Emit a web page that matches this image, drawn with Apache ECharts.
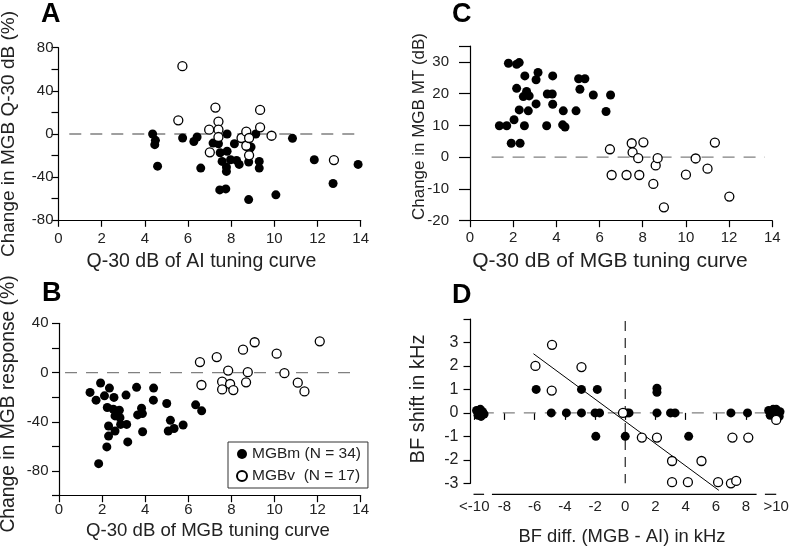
<!DOCTYPE html>
<html><head><meta charset="utf-8">
<script src="https://cdn.jsdelivr.net/npm/echarts@6/dist/echarts.min.js"></script>
<style>html,body{margin:0;padding:0;background:#fff}#c{width:792px;height:547px}</style>
</head><body><div id="c"></div>
<script>
// ---- Panel A: Q-30 of AI tuning curve vs change in MGB Q-30 (%)
const aFilled = [[4.36,0],[4.49,-5.9],[4.46,-9.9],[4.59,-29.8],[5.75,-3.7],[6.27,-7],[6.42,-2.8],[6.59,-31.6],
 [7.16,-8.4],[7.41,-9],[7.49,-17.4],[7.58,-25.4],[7.47,-51.8],[7.75,-50.9],[7.81,0],[7.81,-16],[7.78,-30.7],
 [7.78,-34.7],[7.97,-23.9],[8.15,-9],[8.25,-24.5],[8.37,-28.2],[8.81,-26],[8.92,-12],[8.85,-14],[8.81,-60.8],
 [9.14,0],[9.3,-25.4],[9.3,-31.6],[10.07,-56.4],[10.84,-4],[11.85,-23.9],[12.72,-45.9],[13.88,-28.2]];
const aOpen = [[5.74,62.9],[5.55,12.7],[7.27,24.5],[7.41,11.5],[7.41,4],[7.41,-2.8],[6.98,4],[7.01,-17],
 [8.48,-3.7],[8.7,2.2],[8.7,-10.9],[8.83,-3.7],[8.83,-19.8],[9.34,22.3],[9.34,6.2],[9.87,-1.6],[12.76,-24.2]];
const aZero = [[0.5,0],[14,0]];

// ---- Panel C: Q-30 of MGB tuning curve vs change in MGB MT (dB)
const cFilled = [[1.36,9.9],[1.7,9.9],[1.78,29.6],[2.16,29.3],[2.28,29.8],[2.04,11.8],[1.91,4.4],[2.32,4.4],
 [2.16,21.7],[2.28,14.9],[2.52,9.9],[2.54,25.6],[2.47,19.1],[2.62,20.7],[2.74,19.3],[2.7,14.6],[3.06,16.8],
 [3.06,24.4],[3.15,26.7],[3.55,9.9],[3.58,19.9],[3.81,19.9],[3.83,25.6],[3.83,16.7],[4.32,14.6],[4.29,10.2],
 [4.4,9.5],[4.91,14.6],[5.03,24.7],[5.32,24.7],[5.09,21.4],[5.71,19.6],[6.3,14.4],[6.51,19.6]];
const cOpen = [[6.48,2.5],[6.56,-5.6],[7.25,-5.6],[7.49,4.4],[7.53,1.5],[7.79,-0.3],[7.84,-5.6],[8.03,4.7],
 [8.49,-8.4],[8.6,-2.6],[8.69,-0.3],[8.98,-15.8],[10.0,-5.5],[10.45,-0.4],[11.0,-3.6],[11.34,4.6],[12.01,-12.4]];
const cZero = [[1.0,0],[13.66,0]];

// ---- Panel B: Q-30 of MGB tuning curve vs change in MGB response (%)
const bFilled = [[1.44,-16.1],[1.72,-22.4],[1.84,-74],[1.93,-8.5],[2.11,-18.9],[2.22,-60.4],[2.24,-28.4],
 [2.3,-43.4],[2.3,-51.6],[2.34,-12.6],[2.55,-20.2],[2.52,-29.8],[2.6,-35.2],[2.6,-47.5],[2.68,-31.7],[2.8,-30.6],
 [2.83,-36.6],[2.86,-42.1],[3.11,-18.3],[3.14,-42.1],[3.19,-56.3],[3.6,-12],[3.65,-34.4],[3.83,-29],[3.87,-33.3],
 [3.88,-48.1],[4.39,-12.6],[4.38,-22.4],[5.0,-25.1],[5.17,-38.8],[5.07,-47.5],[5.34,-45.4],[5.76,-42.6],
 [6.34,-26.2],[6.62,-31.1]];
const bOpen = [[6.54,8.5],[6.61,-10.1],[7.32,12.6],[7.57,-7.4],[7.57,-13.7],[7.85,1.6],[7.94,-9.3],[8.09,-14.2],
 [8.54,18.6],[8.68,-7.9],[8.76,0.3],[9.08,24.6],[10.1,15.3],[10.46,-0.5],[11.08,-8.2],[11.39,-15.3],[12.1,25.4]];
const bZero = [[0.28,0],[13.8,0]];

// ---- Panel D: BF difference (MGB - AI) vs BF shift (kHz)
const dFilled = [[-5.9,1],[-4.9,0],[-3.9,0],[-2.9,1],[-2.9,0],[-2.0,0],[-1.7,0],[-1.85,1],[-1.95,-1],[0,-1],
 [0.1,0],[0.25,0],[2.1,1.05],[2.1,0.88],[2.1,0],[3.0,0],[3.3,0],[4.2,-1],[7.0,0],[8.1,0],
 [-9.85,0.1],[-9.75,-0.1],[-9.6,0.15],[-9.55,-0.15],[-9.45,0.05],[-9.35,-0.05],[-9.6,0],
 [9.5,0.1],[9.6,-0.1],[9.8,0.15],[9.85,-0.1],[10.0,0.15],[10.1,-0.05],[10.25,0.05],[10.2,-0.15]];
const dOpen = [[-5.95,2],[-4.85,2.9],[-4.87,0.95],[-2.9,1.95],[-0.15,0],[1.1,-1.05],[2.1,-1.05],[3.1,-2.05],
 [3.1,-2.95],[4.15,-2.95],[5.05,-2.05],[6.15,-2.95],[7.0,-3.0],[7.35,-2.9],[7.1,-1.05],[8.15,-1.05],[10.0,-0.3]];
const dFit = [[-6.08,2.52],[6.2,-3.3]];
const dZeroH = [[-9.5,0],[9.6,0]];
const dZeroV = [[0,3.92],[0,-3]];
const dTicks = [-10,-8,-6,-4,-2,0,2,4,6,8,10];
const dAxisSegments = [[-10.05,-9.35],[-8.83,8.7],[9.25,10.0]];

const seriesNames = ['MGBm (N = 34)', 'MGBv  (N = 17)'];

const FONT = '"Liberation Sans", Arial, Helvetica, sans-serif';
const TXT = '#222';
const chart = echarts.init(document.getElementById('c'), null, {renderer: 'canvas'});

function xAx(gi, o) {
  return Object.assign({
    type: 'value', gridIndex: gi, min: 0, max: 14, interval: 2,
    axisLine: {show: true, onZero: false, lineStyle: {color: '#000', width: 1.2}},
    axisTick: {show: true, length: 6.5, lineStyle: {color: '#000', width: 1.2}},
    axisLabel: {fontSize: 15, color: TXT, fontFamily: FONT, margin: 10},
    splitLine: {show: false}
  }, o);
}
function yAx(gi, o) {
  return Object.assign({
    type: 'value', gridIndex: gi,
    axisLine: {show: true, onZero: false, lineStyle: {color: '#000', width: 1.2}},
    axisTick: {show: true, length: 7, lineStyle: {color: '#000', width: 1.2}},
    splitLine: {show: false}
  }, o);
}
const every40 = v => (v % 40 === 0 ? String(v) : '');

function filled(name, xi, data) {
  return {name, type: 'scatter', xAxisIndex: xi, yAxisIndex: xi, data, symbol: 'circle', symbolSize: 9,
    itemStyle: {color: '#000', opacity: 1}, z: 3, silent: true};
}
function open(name, xi, data) {
  return {name, type: 'scatter', xAxisIndex: xi, yAxisIndex: xi, data, symbol: 'circle', symbolSize: 9,
    itemStyle: {color: '#fff', borderColor: '#000', borderWidth: 1.3, opacity: 1}, z: 4, silent: true};
}
function dashed(xi, data) {
  return {type: 'line', xAxisIndex: xi, yAxisIndex: xi, data, symbol: 'none', silent: true, z: 1,
    lineStyle: {color: '#808080', width: 1.3, type: [12, 9]}, animation: false};
}

function txt(id, s, x, y, size, o) {
  return Object.assign({type: 'text', id, x, y, silent: true,
    style: {text: s, fontSize: size, fontFamily: FONT, fill: TXT, textAlign: 'center', textVerticalAlign: 'middle'}}, o || {});
}
function vtxt(id, s, x, y, size) {
  return {type: 'text', id, x, y, rotation: Math.PI / 2, silent: true,
    style: {text: s, fontSize: size, fontFamily: FONT, fill: TXT, textAlign: 'center', textVerticalAlign: 'middle'}};
}
function letter(id, s, x, y) {
  return {type: 'text', id, x, y, silent: true,
    style: {text: s, fontSize: 27, fontWeight: 'bold', fontFamily: FONT, fill: '#000', textAlign: 'left', textVerticalAlign: 'middle'}};
}

const option = {
  animation: false,
  backgroundColor: '#fff',
  grid: [
    {left: 58.5, top: 47.7, width: 302.2, height: 172.6},
    {left: 470, top: 46.1, width: 302.3, height: 174.6},
    {left: 59, top: 323.3, width: 301.7, height: 172.4},
    {left: 470.5, top: 319, width: 311, height: 164.3}
  ],
  xAxis: [
    xAx(0, {axisLabel: {fontSize: 15, color: TXT, fontFamily: FONT, margin: 11}}),
    xAx(1, {axisLabel: {fontSize: 15, color: TXT, fontFamily: FONT, margin: 10}}),
    xAx(2, {axisLabel: {fontSize: 15, color: TXT, fontFamily: FONT, margin: 7}}),
    {type: 'value', gridIndex: 3, min: -10.25, max: 10.35, offset: 11,
      axisLine: {show: false},
      axisTick: {show: true, length: 7, customValues: dTicks, lineStyle: {color: '#000', width: 1.2}},
      axisLabel: {fontSize: 15, color: TXT, fontFamily: FONT, margin: 5, customValues: dTicks,
        formatter: v => (v <= -10 ? '<-10' : (v >= 10 ? '>10' : String(v)))},
      splitLine: {show: false}}
  ],
  yAxis: [
    yAx(0, {min: -80, max: 80, interval: 20,
      axisLabel: {fontSize: 15, color: TXT, fontFamily: FONT, margin: 5, formatter: every40}}),
    yAx(1, {min: -20, max: 35, interval: 10, axisTick: {show: true, length: 11, lineStyle: {color: '#000', width: 1.2}},
      axisLabel: {fontSize: 15, color: TXT, fontFamily: FONT, margin: 21, formatter: v => (v > 30 ? '' : String(v))}}),
    yAx(2, {min: -100, max: 40, interval: 20,
      axisLabel: {fontSize: 15, color: TXT, fontFamily: FONT, margin: 10.5, formatter: every40}}),
    yAx(3, {min: -3, max: 4, interval: 1,
      axisLabel: {fontSize: 16, color: TXT, fontFamily: FONT, margin: 12, formatter: v => (v >= 4 ? '' : String(v))}})
  ],
  legend: {
    show: true, orient: 'vertical', left: 228, top: 442,
    data: seriesNames,
    itemWidth: 10, itemHeight: 10, itemGap: 4, padding: [3, 7, 3, 8],
    borderColor: '#333', borderWidth: 1, backgroundColor: '#fff',
    textStyle: {fontSize: 15.5, color: TXT, fontFamily: FONT, lineHeight: 18},
    selectedMode: false
  },
  series: [
    dashed(0, aZero), dashed(1, cZero), dashed(2, bZero), dashed(3, dZeroH),
    {type: 'line', xAxisIndex: 3, yAxisIndex: 3, data: dZeroV, symbol: 'none', silent: true, z: 1, clip: false,
      lineStyle: {color: '#222', width: 1.2, type: [10, 7]}},
    {type: 'line', xAxisIndex: 3, yAxisIndex: 3, data: dFit, symbol: 'none', silent: true, z: 2, clip: false,
      lineStyle: {color: '#000', width: 1}},
    filled(seriesNames[0], 0, aFilled), open(seriesNames[1], 0, aOpen),
    filled(seriesNames[0], 1, cFilled), open(seriesNames[1], 1, cOpen),
    filled(seriesNames[0], 2, bFilled), open(seriesNames[1], 2, bOpen),
    filled(seriesNames[0], 3, dFilled), open(seriesNames[1], 3, dOpen)
  ],
  graphic: [
    letter('LA', 'A', 41, 14.5), letter('LC', 'C', 452, 15), letter('LB', 'B', 42, 294), letter('LD', 'D', 452, 296),
    vtxt('yA', 'Change in MGB Q-30 dB (%)', 9, 134, 19),
    txt('xA', 'Q-30 dB of AI tuning curve', 201.5, 262, 19.5),
    vtxt('yC', 'Change in MGB MT (dB)', 419, 126.5, 17),
    txt('xC', 'Q-30 dB of MGB tuning curve', 610, 261, 21),
    vtxt('yB', 'Change in MGB response (%)', 9, 404, 19.3),
    txt('xB', 'Q-30 dB of MGB tuning curve', 208, 531, 18.6),
    vtxt('yD', 'BF shift in kHz', 418, 399, 20),
    txt('xD', 'BF diff. (MGB - AI) in kHz', 622, 536.5, 18.4)
  ]
};
chart.setOption(option);

// broken x axis line for panel D, placed through the axis scale
const axisY = chart.convertToPixel({xAxisIndex: 3, yAxisIndex: 3}, [0, -3])[1] + 11;
const segGraphics = dAxisSegments.map((s, i) => {
  const x1 = chart.convertToPixel({xAxisIndex: 3, yAxisIndex: 3}, [s[0], 0])[0];
  const x2 = chart.convertToPixel({xAxisIndex: 3, yAxisIndex: 3}, [s[1], 0])[0];
  return {type: 'line', id: 'dseg' + i, silent: true, shape: {x1, y1: axisY, x2, y2: axisY},
    style: {stroke: '#000', lineWidth: 1.2}};
});
chart.setOption({graphic: segGraphics});
</script>
</body></html>
